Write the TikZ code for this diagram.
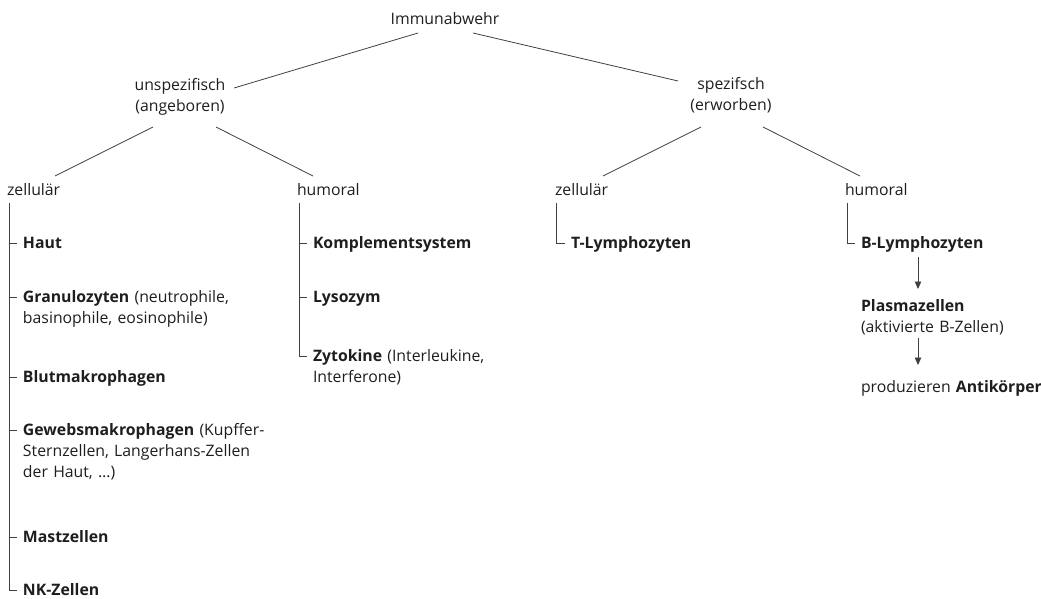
\documentclass[tikz,border=0pt]{standalone}
\usepackage{fontspec}
\setmainfont{Open Sans}
\usetikzlibrary{arrows.meta,calc}
\definecolor{txt}{HTML}{1E1E1E}
\definecolor{ln}{HTML}{404040}
\begin{document}
\begin{tikzpicture}[x=1pt,y=-1pt,
  every node/.style={inner sep=0pt, outer sep=0pt, text=txt,
    font=\fontsize{15.8}{21}\selectfont},
  head/.style={anchor=base west},
  leaf/.style={anchor=base west, align=left, text width=270pt},
  conn/.style={draw=ln, line width=0.8pt},
  arr/.style={conn, -{Triangle[width=6.5pt,length=7.5pt]}}]
\useasboundingbox (0,0) rectangle (1041,598);

% headings
\node[anchor=base] (imm) at (445,24) {Immunabwehr};
\node[align=center] (unsp) at (180,97) {unspezifisch\\(angeboren)};
\node[align=center] (spez) at (731,95) {spezifsch\\(erworben)};
\node[head] (zl) at (7,195) {zellulär};
\node[head] (hl) at (297,195) {humoral};
\node[head] (zr) at (555,195) {zellulär};
\node[head] (hr) at (845,195) {humoral};

% leaves: unspezifisch / zellulär
\node[leaf] (haut)  at (23,248) {\textbf{Haut}};
\node[leaf] (gran)  at (23,302) {\textbf{Granulozyten} (neutrophile,\\basinophile, eosinophile)};
\node[leaf] (blut)  at (23,382) {\textbf{Blutmakrophagen}};
\node[leaf] (geweb) at (23,435) {\textbf{Gewebsmakrophagen} (Kupffer-\\Sternzellen, Langerhans-Zellen\\der Haut, …)};
\node[leaf] (mast)  at (23,542) {\textbf{Mastzellen}};
\node[leaf] (nk)    at (23,595) {\textbf{NK-Zellen}};

% leaves: unspezifisch / humoral
\node[leaf] (komp) at (313,248) {\textbf{Komplementsystem}};
\node[leaf] (lyso) at (313,302) {\textbf{Lysozym}};
\node[leaf] (zyto) at (313,361) {\textbf{Zytokine} (Interleukine,\\Interferone)};

% leaves: spezifisch
\node[leaf] (tly)    at (571,248) {\textbf{T-Lymphozyten}};
\node[leaf] (bly)    at (861,248) {\textbf{B-Lymphozyten}};
\node[leaf] (plasma) at (861,311) {\textbf{Plasmazellen}\\(aktivierte B-Zellen)};
\node[leaf] (prod)   at (861,392) {produzieren \textbf{Antikörper}};

% branches
\draw[conn] ([xshift=-27pt,yshift=-9pt]imm.base) -- ([xshift=54pt,yshift=9pt]unsp.center);
\draw[conn] ([xshift=28pt,yshift=-9pt]imm.base) -- ([xshift=-53pt,yshift=14pt]spez.center);
\draw[conn] ([xshift=-27pt,yshift=-30pt]unsp.center) -- ([xshift=48pt,yshift=19pt]zl.base west);
\draw[conn] ([xshift=36pt,yshift=-30pt]unsp.center) -- ([xshift=16pt,yshift=19pt]hl.base west);
\draw[conn] ([xshift=-30pt,yshift=-32pt]spez.center) -- ([xshift=48pt,yshift=19pt]zr.base west);
\draw[conn] ([xshift=32pt,yshift=-32pt]spez.center) -- ([xshift=15pt,yshift=19pt]hr.base west);

% trees
\draw[conn] ([xshift=2pt,yshift=-8pt]zl.base west) |- ([xshift=-6pt,yshift=5pt]nk.base west);
\foreach \n in {haut,gran,blut,geweb,mast}
  \draw[conn] ([xshift=-14pt,yshift=5pt]\n.base west) -- ++(8,0);
\draw[conn] ([xshift=2pt,yshift=-8pt]hl.base west) |- ([xshift=-6pt,yshift=5pt]zyto.base west);
\foreach \n in {komp,lyso}
  \draw[conn] ([xshift=-14pt,yshift=5pt]\n.base west) -- ++(8,0);
\draw[conn] ([xshift=1pt,yshift=-8pt]zr.base west) |- ([xshift=-6pt,yshift=5pt]tly.base west);
\draw[conn] ([xshift=2pt,yshift=-8pt]hr.base west) |- ([xshift=-6pt,yshift=5pt]bly.base west);

% arrows
\draw[arr] ([xshift=57pt,yshift=-9pt]bly.base west) -- ([xshift=57pt,yshift=22pt]plasma.base west);
\draw[arr] ([xshift=57pt,yshift=-27pt]plasma.base west) -- ([xshift=57pt,yshift=27pt]prod.base west);
\end{tikzpicture}
\end{document}
